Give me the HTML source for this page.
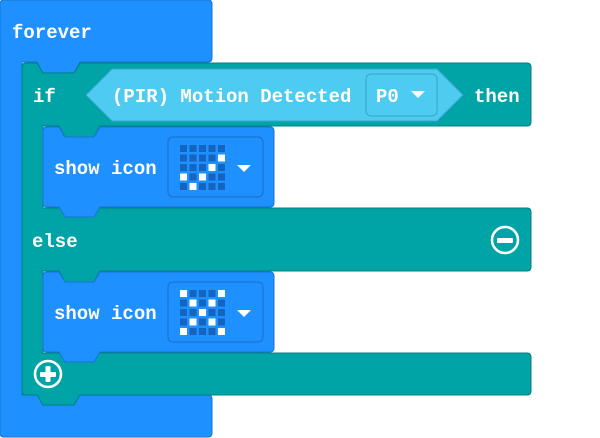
<!DOCTYPE html>
<html><head><meta charset="utf-8"><style>
html,body{margin:0;padding:0;background:#fff;width:600px;height:438px;overflow:hidden}
text{font-family:"Liberation Mono","DejaVu Sans Mono",monospace;font-weight:bold;font-size:19px;fill:#fff}
</style></head><body>
<svg width="600" height="438" viewBox="0 0 600 438" xmlns="http://www.w3.org/2000/svg">
<path d="M0 4Q0 0 4 0H208Q212 0 212 4V58Q212 62 208 62H80L74 73H43L37 62H22V395H208Q212 395 212 399V433Q212 437 208 437H4Q0 437 0 433Z" fill="#1E90FF" stroke="#1a74d0" stroke-width="1"/>
<path d="M22 67Q22 63 26 63H37L43 73H74L80 63H527Q531 63 531 67V122Q531 126 527 126H100L94 137H65L59 126H43V208H527Q531 208 531 212V267Q531 271 527 271H100L94 282H65L59 271H43V353H527Q531 353 531 357V391Q531 395 527 395H80L74 405H43L37 395H26Q22 395 22 391Z" fill="#00A4A6" stroke="#008082" stroke-width="1"/>
<path d="M43 131Q43 127 47 127H59L65 137H94L100 127H270Q274 127 274 131V203Q274 207 270 207H100L94 217H65L59 207H47Q43 207 43 203Z" fill="#1E90FF" stroke="#1a74d0"/>
<path d="M43 276Q43 272 47 272H59L65 282H94L100 272H270Q274 272 274 276V348Q274 352 270 352H100L94 362H65L59 352H47Q43 352 43 348Z" fill="#1E90FF" stroke="#1a74d0"/>
<path d="M86 95L112 69H437L463 95L437 121H112Z" fill="#4ECBF0" stroke="#3aa6c9"/>
<rect x="366" y="74" width="71" height="42" rx="5" fill="#4ECBF0" stroke="#3aa6c9"/>
<text x="12" y="38">forever</text>
<text x="33" y="102">if</text>
<text x="112" y="102">(PIR) Motion Detected</text>
<text x="376" y="102">P0</text>
<path d="M411 91H425L418 98Z" fill="#fff"/>
<text x="474" y="102">then</text>
<text x="32" y="247">else</text>
<text x="54" y="174">show icon</text>
<text x="54" y="319">show icon</text>
<rect x="168" y="137" width="95" height="60" rx="5" fill="#1E90FF" stroke="#1a6fc4"/>
<rect x="168" y="282" width="95" height="60" rx="5" fill="#1E90FF" stroke="#1a6fc4"/>
<path d="M237 165H251L244 172Z" fill="#fff"/>
<path d="M237 310H251L244 317Z" fill="#fff"/>
<g id="g1"></g>
<circle cx="505" cy="240" r="13" fill="none" stroke="#fff" stroke-width="2.5"/>
<rect x="497" y="238" width="16" height="5" rx="1" fill="#fff"/>
<circle cx="48" cy="374" r="13" fill="none" stroke="#fff" stroke-width="2.5"/>
<rect x="40" y="372" width="16" height="5" rx="1" fill="#fff"/>
<rect x="45.5" y="366" width="5" height="16" rx="1" fill="#fff"/>
<g>
<!-- grid 1 -->
<rect x="180" y="145" width="7" height="7" fill="#1565C0"/><rect x="189.5" y="145" width="7" height="7" fill="#1565C0"/><rect x="199" y="145" width="7" height="7" fill="#1565C0"/><rect x="208.5" y="145" width="7" height="7" fill="#1565C0"/><rect x="218" y="145" width="7" height="7" fill="#1565C0"/>
<rect x="180" y="154.5" width="7" height="7" fill="#1565C0"/><rect x="189.5" y="154.5" width="7" height="7" fill="#1565C0"/><rect x="199" y="154.5" width="7" height="7" fill="#1565C0"/><rect x="208.5" y="154.5" width="7" height="7" fill="#1565C0"/><rect x="218" y="154.5" width="7" height="7" fill="#fff"/>
<rect x="180" y="164" width="7" height="7" fill="#1565C0"/><rect x="189.5" y="164" width="7" height="7" fill="#1565C0"/><rect x="199" y="164" width="7" height="7" fill="#1565C0"/><rect x="208.5" y="164" width="7" height="7" fill="#fff"/><rect x="218" y="164" width="7" height="7" fill="#1565C0"/>
<rect x="180" y="173.5" width="7" height="7" fill="#fff"/><rect x="189.5" y="173.5" width="7" height="7" fill="#1565C0"/><rect x="199" y="173.5" width="7" height="7" fill="#fff"/><rect x="208.5" y="173.5" width="7" height="7" fill="#1565C0"/><rect x="218" y="173.5" width="7" height="7" fill="#1565C0"/>
<rect x="180" y="183" width="7" height="7" fill="#1565C0"/><rect x="189.5" y="183" width="7" height="7" fill="#fff"/><rect x="199" y="183" width="7" height="7" fill="#1565C0"/><rect x="208.5" y="183" width="7" height="7" fill="#1565C0"/><rect x="218" y="183" width="7" height="7" fill="#1565C0"/>
<!-- grid 2 -->
<rect x="180" y="290" width="7" height="7" fill="#fff"/><rect x="189.5" y="290" width="7" height="7" fill="#1565C0"/><rect x="199" y="290" width="7" height="7" fill="#1565C0"/><rect x="208.5" y="290" width="7" height="7" fill="#1565C0"/><rect x="218" y="290" width="7" height="7" fill="#fff"/>
<rect x="180" y="299.5" width="7" height="7" fill="#1565C0"/><rect x="189.5" y="299.5" width="7" height="7" fill="#fff"/><rect x="199" y="299.5" width="7" height="7" fill="#1565C0"/><rect x="208.5" y="299.5" width="7" height="7" fill="#fff"/><rect x="218" y="299.5" width="7" height="7" fill="#1565C0"/>
<rect x="180" y="309" width="7" height="7" fill="#1565C0"/><rect x="189.5" y="309" width="7" height="7" fill="#1565C0"/><rect x="199" y="309" width="7" height="7" fill="#fff"/><rect x="208.5" y="309" width="7" height="7" fill="#1565C0"/><rect x="218" y="309" width="7" height="7" fill="#1565C0"/>
<rect x="180" y="318.5" width="7" height="7" fill="#1565C0"/><rect x="189.5" y="318.5" width="7" height="7" fill="#fff"/><rect x="199" y="318.5" width="7" height="7" fill="#1565C0"/><rect x="208.5" y="318.5" width="7" height="7" fill="#fff"/><rect x="218" y="318.5" width="7" height="7" fill="#1565C0"/>
<rect x="180" y="328" width="7" height="7" fill="#fff"/><rect x="189.5" y="328" width="7" height="7" fill="#1565C0"/><rect x="199" y="328" width="7" height="7" fill="#1565C0"/><rect x="208.5" y="328" width="7" height="7" fill="#1565C0"/><rect x="218" y="328" width="7" height="7" fill="#fff"/>
</g>
</svg>
</body></html>
